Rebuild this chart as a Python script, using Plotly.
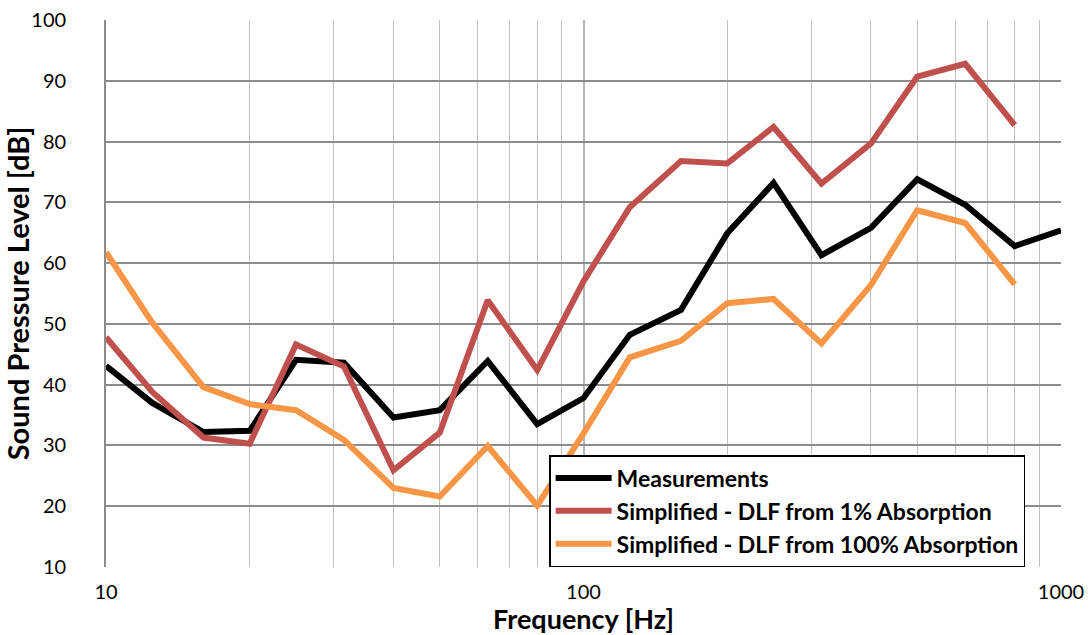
import plotly.graph_objects as go

freq = [10, 12.5, 16, 20, 25, 31.5, 40, 50, 63, 80, 100, 125, 160, 200, 250, 315, 400, 500, 630, 800, 1000]
measurements = [43.1, 37.0, 32.2, 32.4, 44.1, 43.6, 34.6, 35.8, 43.9, 33.5, 37.8, 48.2, 52.3, 64.9, 73.2, 61.3, 65.8, 73.8, 69.6, 62.8, 65.4]
dlf_1pct = [47.8, 38.8, 31.3, 30.3, 46.6, 43.0, 25.9, 32.1, 53.9, 42.4, 57.0, 69.2, 76.8, 76.4, 82.4, 73.1, 79.7, 90.7, 92.8, 82.7]
dlf_100pct = [61.8, 50.2, 39.6, 36.8, 35.8, 30.9, 23.0, 21.6, 29.9, 20.1, 32.0, 44.5, 47.2, 53.4, 54.1, 46.8, 56.4, 68.7, 66.6, 56.5]

names = ["Measurements", "Simplified - DLF from 1% Absorption", "Simplified - DLF from 100% Absorption"]
colors = ["#000000", "#C0504D", "#F79646"]

fig = go.Figure()
for name, ys, c in zip(names, [measurements, dlf_1pct, dlf_100pct], colors):
    fig.add_trace(go.Scatter(x=freq[:len(ys)], y=ys, mode="lines", name=name,
                             line=dict(color=c, width=6)))

font = "Lato, 'Open Sans', sans-serif"
fig.update_layout(
    width=1091, height=635,
    margin=dict(l=106, r=30, t=20, b=68, autoexpand=False),
    paper_bgcolor="white", plot_bgcolor="white",
    font=dict(family=font, color="#000000", size=20),
    showlegend=True,
    legend=dict(x=0.464, y=0.0, xanchor="left", yanchor="bottom",
                bgcolor="white", bordercolor="#000000", borderwidth=1.5,
                font=dict(family=font, size=23, color="#000000", weight="bold"),
                tracegroupgap=0, itemwidth=56),
    xaxis=dict(type="log", range=[1, 3], tickvals=[10, 100, 1000], ticktext=["10", "100", "1000"],
               showgrid=True, gridcolor="#b4b4b4", gridwidth=1.5,
               minor=dict(tickvals=[20, 30, 40, 50, 60, 70, 80, 90, 200, 300, 400, 500, 600, 700, 800, 900],
                          showgrid=True, gridcolor="#c0c0c0", gridwidth=1.3),
               showline=False, zeroline=False, ticks="", ticklabelstandoff=11, automargin=False,
               tickfont=dict(size=20),
               title=dict(text="Frequency [Hz]", font=dict(size=27, weight="bold"), standoff=9)),
    yaxis=dict(range=[10, 100], dtick=10, showgrid=True, gridcolor="#8c8c8c", gridwidth=1.8,
               showline=True, linecolor="#8c8c8c", linewidth=1.8, mirror=False, zeroline=False,
               ticks="", ticklabelstandoff=34, tickfont=dict(size=20), automargin=False,
               title=dict(text="Sound Pressure Level [dB]", font=dict(size=29, weight="bold"), standoff=8)),
)

fig.write_html("out.html")
